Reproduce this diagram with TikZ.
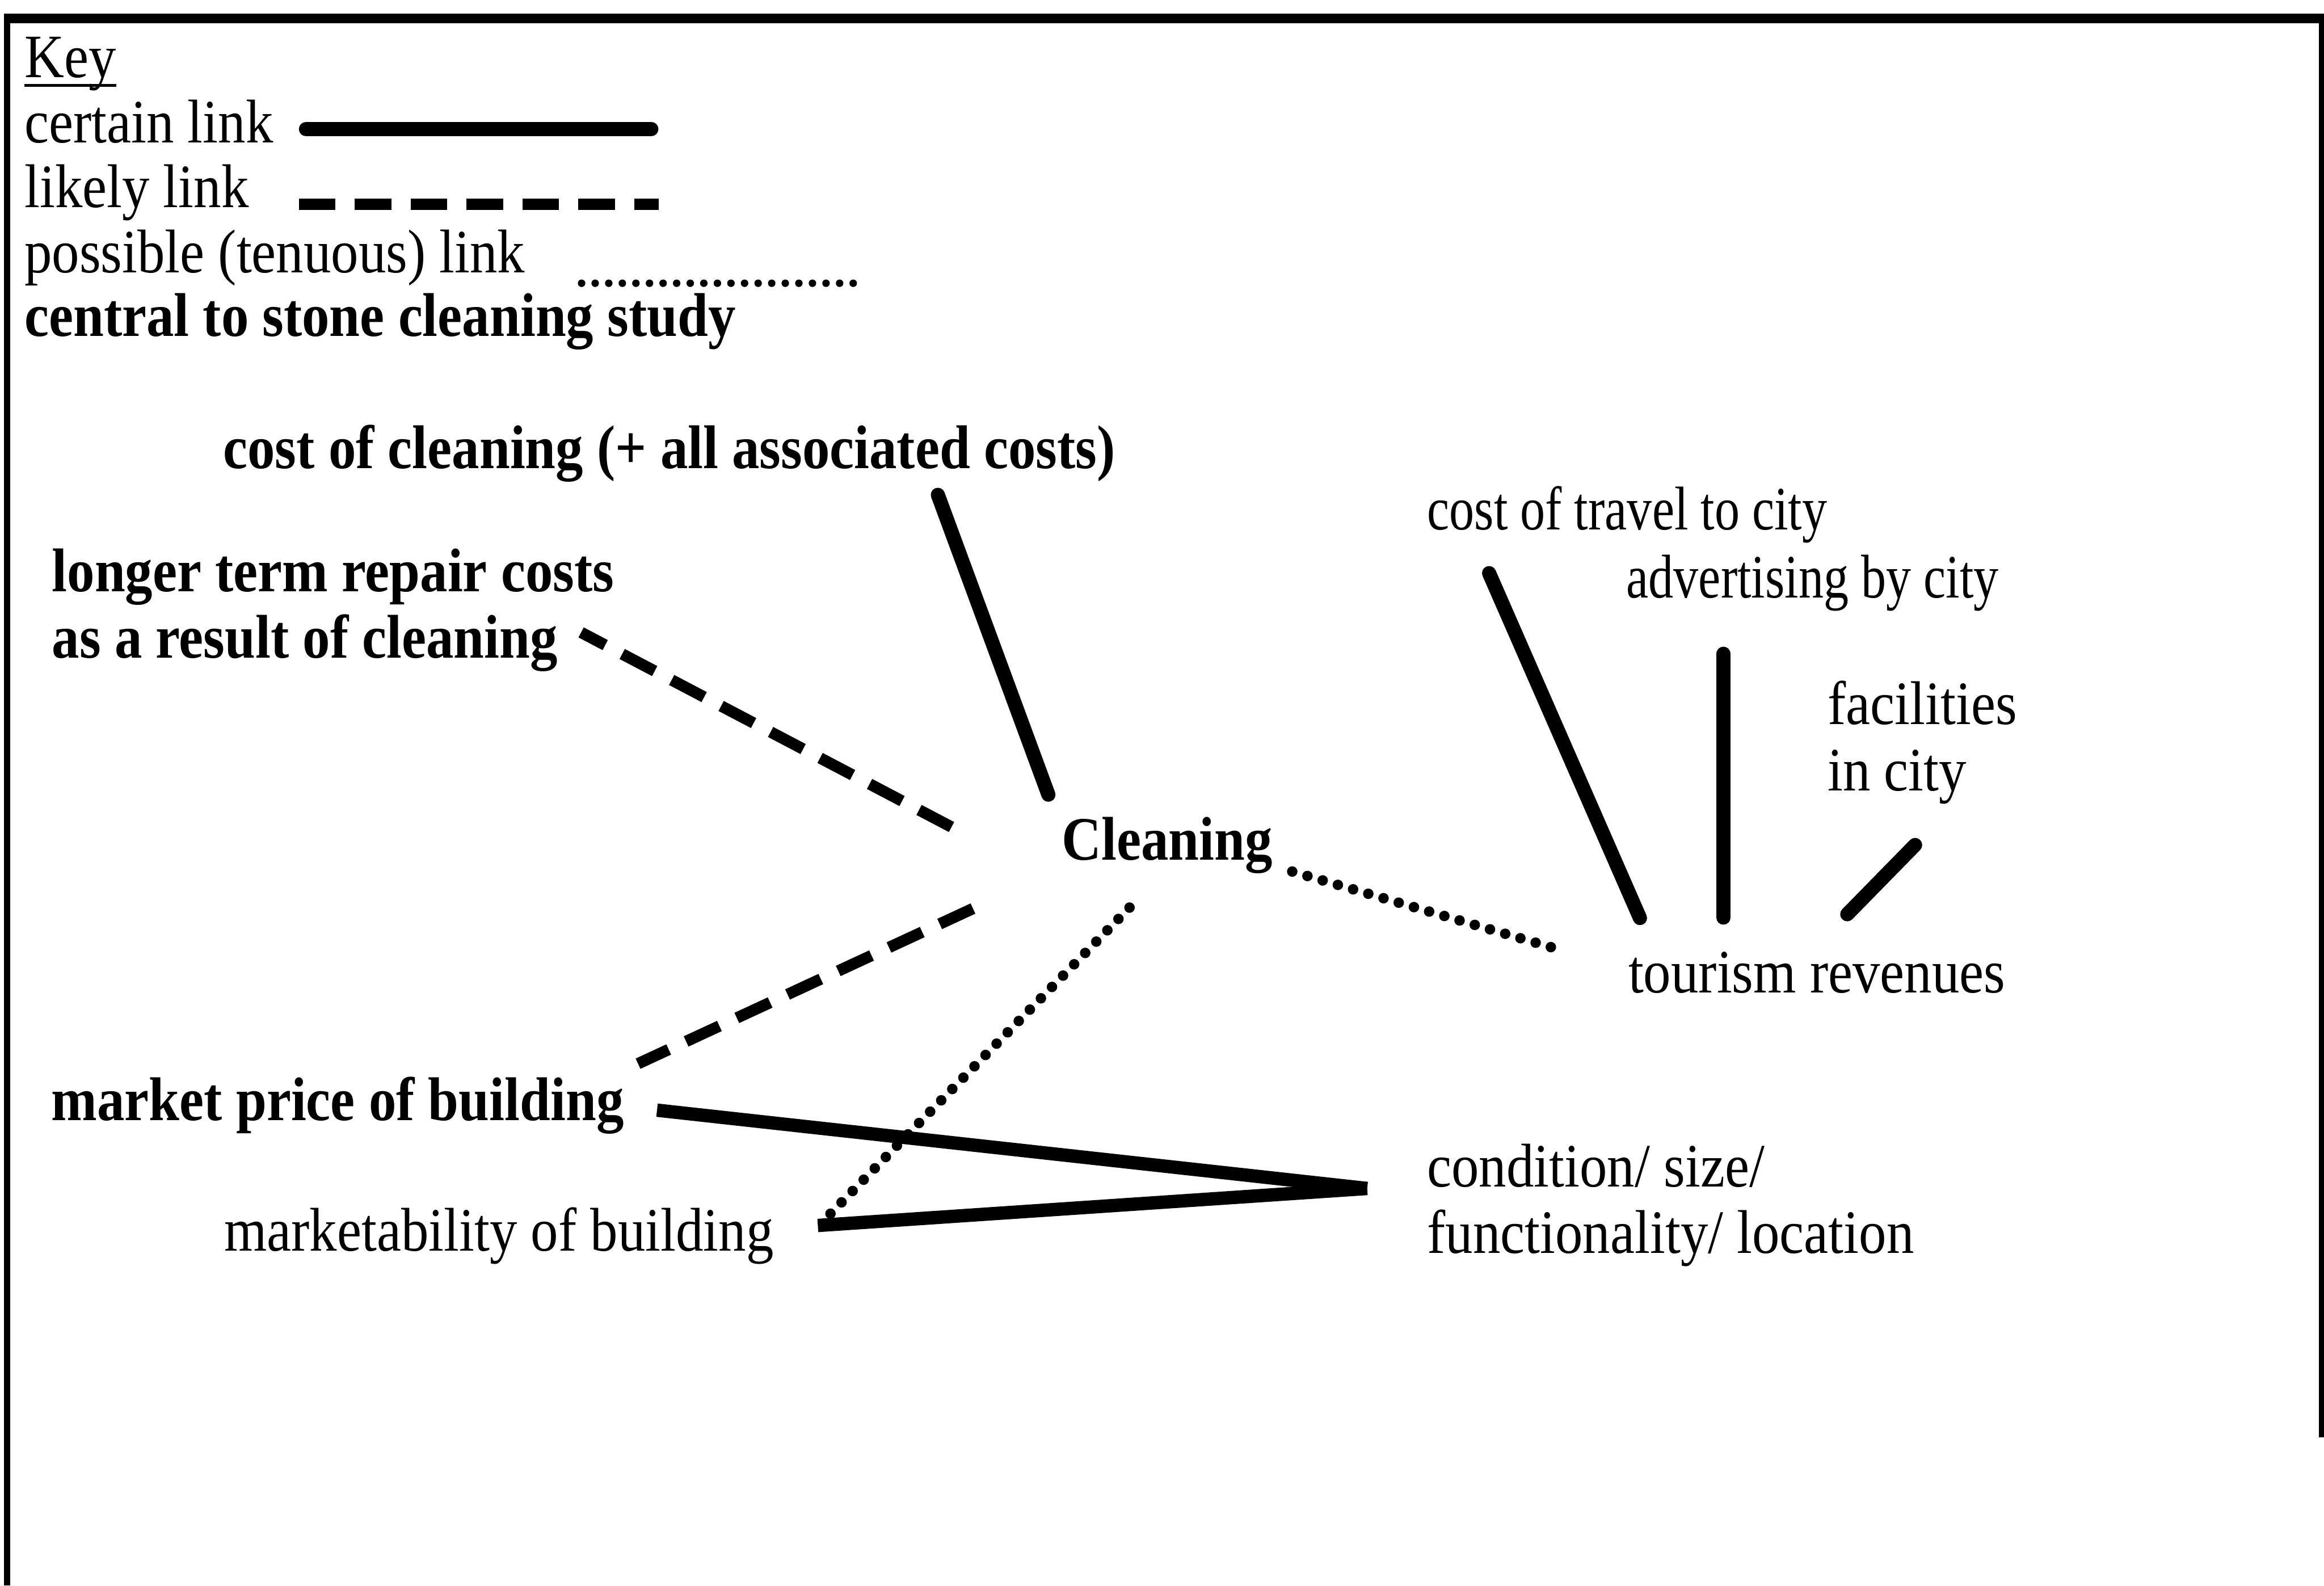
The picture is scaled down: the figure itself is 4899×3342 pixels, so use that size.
\documentclass[tikz,border=0pt]{standalone}
\usepackage{fontspec}
\setmainfont{Liberation Serif}[FakeStretch=0.89]
\newfontfamily\narrowserif{Liberation Serif}[FakeStretch=0.81]
\begin{document}
\begin{tikzpicture}[x=0.01cm, y=-0.01cm,
  txt/.style={inner sep=0pt, anchor=base west, align=left,
    font=\fontsize{37pt}{40pt}\selectfont},
  btxt/.style={txt, font=\fontsize{37pt}{40pt}\selectfont\bfseries},
  ntxt/.style={txt, font=\fontsize{37pt}{40pt}\narrowserif},
  certain/.style={line width=8.5pt, line cap=round},
  strong/.style={line width=8pt, line cap=butt},
  likely/.style={line width=6.8pt, dash pattern=on 22pt off 11.5pt},
  possible/.style={line width=6.3pt, line cap=round, dash pattern=on 0pt off 9.5pt}]

\useasboundingbox (0,0) rectangle (4899,3342);

% outer frame (open at the bottom)
\draw[line width=5.7pt] (8,39) -- (4899,39);
\draw[line width=4pt] (15,30) -- (15,3342);
\draw[line width=3.1pt] (4894,30) -- (4894,3030);

% key
\node[txt] (key) at (51,163) {Key};
\draw[line width=2pt] ([shift={(0,17)}]key.base west) -- ([shift={(0,17)}]key.base east);
\node[txt] (kcert) at (51,301) {certain link};
\draw[certain] (645,272) -- (1373,272);
\node[txt] (klike) at (51,437) {likely link};
\draw[likely] (630,430) -- (1388,430);
\node[txt] (kposs) at (51,575) {possible (tenuous) link};
\draw[line width=4.5pt, line cap=round, dash pattern=on 0pt off 8.14pt] (1226,597) -- (1799,597);
\node[btxt] (kcentral) at (51,709) {central to stone cleaning study};

% factors (multi-line labels are placed by the baseline of their last line)
\node[btxt] (cost) at (470,987) {cost of cleaning (+ all associated costs)};
\node[btxt] (repair) at (109,1387) {longer term repair costs\\as a result of cleaning};
\node[btxt] (clean) at (2238,1813) {Cleaning};
\node[ntxt] (travel) at (3008,1117) {cost of travel to city};
\node[ntxt] (advert) at (3428,1260) {advertising by city};
\node[txt] (facil) at (3852,1667) {facilities\\in city};
\node[txt] (tourism) at (3432,2092) {tourism revenues};
\node[btxt] (price) at (108,2362) {market price of building};
\node[txt] (market) at (472,2637) {marketability of building};
\node[txt] (cond) at (3008,2642) {condition/ size/\\functionality/ location};

% links
\draw[certain] ([shift={(1507,56)}]cost.base west) -- ([shift={(-28,-138)}]clean.base west);
\draw[likely, dash phase=5.7pt] ([shift={(1116,-54)}]repair.base west) -- ([shift={(-223,-65)}]clean.base west);
\draw[possible] ([shift={(486,24)}]clean.base west) -- ([shift={(-157,-94)}]tourism.base west);
\draw[certain] ([shift={(131,91)}]travel.base west) -- ([shift={(25,-157)}]tourism.base west);
\draw[certain] ([shift={(205,118)}]advert.base west) -- ([shift={(201,-158)}]tourism.base west);
\draw[certain] ([shift={(185,114)}]facil.base west) -- ([shift={(462,-165)}]tourism.base west);
\draw[likely] ([shift={(-187,102)}]clean.base west) -- ([shift={(1237,-120)}]price.base west);
\draw[possible] ([shift={(143,100)}]clean.base west) -- ([shift={(1270,-70)}]market.base west);
\draw[strong] ([shift={(1277,-22)}]price.base west) -- ([shift={(-126,-137)}]cond.base west);
\draw[strong] ([shift={(1252,-54)}]market.base west) -- ([shift={(-126,-137)}]cond.base west);
\end{tikzpicture}
\end{document}
